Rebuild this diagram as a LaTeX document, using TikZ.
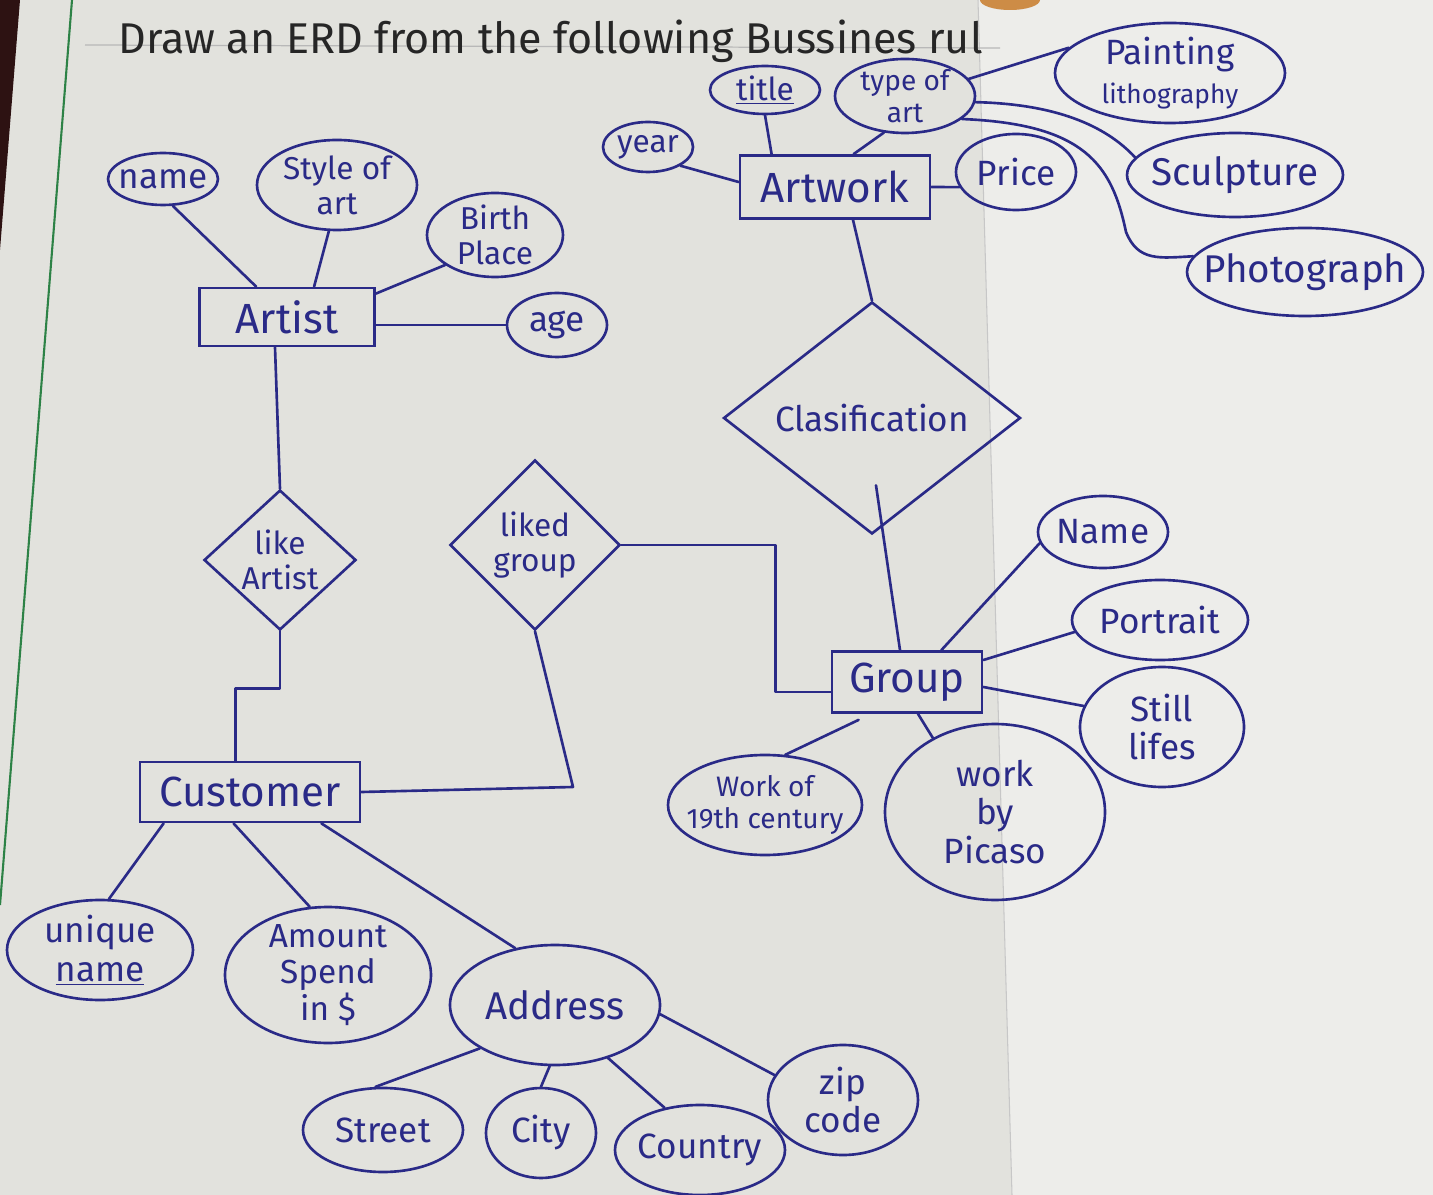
\documentclass[tikz,border=0pt]{standalone}
\usepackage{fontspec}
\setmainfont{Fira Sans}
\usetikzlibrary{shapes.geometric,calc}
\definecolor{inkc}{RGB}{42,42,135}
\definecolor{paper}{RGB}{226,226,221}
\definecolor{paperr}{RGB}{237,237,234}
\definecolor{marginc}{RGB}{45,130,70}
\definecolor{edgec}{RGB}{45,18,18}
\definecolor{fingerc}{RGB}{205,140,70}
\begin{document}
\begin{tikzpicture}[x=0.02cm,y=-0.02cm,
  line/.style={draw=inkc,line width=1.5pt,line join=round,line cap=round},
  ent/.style 2 args={rectangle,draw=inkc,line width=1.6pt,inner sep=0pt,
    minimum width=#1*0.02cm,minimum height=#2*0.02cm,text=inkc,
    font=\fontsize{24}{26}\selectfont},
  attr/.style 2 args={ellipse,draw=inkc,line width=1.5pt,inner sep=-2cm,
    minimum width=#1*0.02cm,minimum height=#2*0.02cm,text=inkc,align=center,
    font=\fontsize{20}{22}\selectfont},
  rel/.style 2 args={diamond,draw=inkc,line width=1.5pt,inner sep=-3cm,
    minimum width=#1*0.02cm,minimum height=#2*0.02cm,text=inkc,align=center,
    font=\fontsize{20}{23}\selectfont},
  smalltxt/.style={font=\fontsize{16}{18}\selectfont},
  midtxt/.style={font=\fontsize{18}{20}\selectfont}
]
% paper
\useasboundingbox (0,0) rectangle (1433,1195);
\fill[paper] (0,0) rectangle (1433,1195);
\fill[paperr] (978,0) -- (1433,0) -- (1433,1195) -- (1012,1195) -- cycle;
\draw[black!22,line width=0.6pt] (978,0) -- (1012,1195);
\fill[edgec] (0,0) -- (20,0) -- (0,250) -- cycle;
\draw[marginc,line width=1.2pt] (72,0) -- (0,905);
\draw[black!28,line width=0.7pt] (85,45) -- (1000,48);
\fill[fingerc] (1010,0) ellipse [x radius=30, y radius=10];

% header
\node[anchor=base west,text=black!85,font=\fontsize{24.5}{26}\selectfont,inner sep=0pt] (header) at (118,54)
  {Draw an ERD from the following Bussines rul};

% entities
\node[ent={190}{63}] (artwork) at (835,187) {Artwork};
\node[ent={175}{58}] (artist) at (287,317) {Artist};
\node[ent={150}{61}] (group) at (907,682) {Group};
\node[ent={220}{60}] (customer) at (250,792) {Customer};

% relationships
\node[rel={297}{232}] (clas) at (872,418) {Clasification};
\node[rel={152}{140},midtxt] (likeart) at (280,560) {like\\Artist};
\node[rel={170}{170},midtxt] (likedg) at (535,545) {liked\\group};

% attributes
\node[attr={110}{52}] (aname) at (163,179) {name};
\node[attr={160}{90},midtxt] (style) at (337,185) {Style of\\art};
\node[attr={136}{84},midtxt] (birth) at (495,235) {Birth\\Place};
\node[attr={100}{64}] (age) at (557,325) {age};
\node[attr={90}{50},midtxt] (year) at (648,147) {year};
\node[attr={110}{48},midtxt] (titleattr) at (765,90) {\underline{title}};
\node[attr={140}{74},smalltxt] (typeart) at (905,96) {type of\\art};
\node[attr={120}{76}] (price) at (1016,172) {Price};
\node[attr={230}{100}] (painting) at (1170,73) {Painting\\{\fontsize{15}{17}\selectfont lithography}};
\node[attr={216}{84},font=\fontsize{22}{24}\selectfont] (sculpture) at (1235,175) {Sculpture};
\node[attr={236}{88},font=\fontsize{22}{24}\selectfont] (photo) at (1305,272) {Photograph};
\node[attr={130}{72}] (gname) at (1103,532) {Name};
\node[attr={176}{80}] (portrait) at (1160,620) {Portrait};
\node[attr={164}{120}] (still) at (1162,727) {Still\\lifes};
\node[attr={194}{100},smalltxt] (work19) at (765,805) {Work of\\19th century};
\node[attr={220}{176}] (picasso) at (995,812) {work\\by\\Picaso};
\node[attr={186}{100}] (uniq) at (100,950) {unique\\\underline{name}};
\node[attr={206}{136},font=\fontsize{19}{21}\selectfont] (amount) at (328,975) {Amount\\Spend\\in \$};
\node[attr={210}{120},font=\fontsize{22}{24}\selectfont] (address) at (555,1005) {Address};
\node[attr={160}{84}] (street) at (383,1130) {Street};
\node[attr={110}{90}] (city) at (541,1133) {City};
\node[attr={170}{90}] (country) at (700,1150) {Country};
\node[attr={150}{110}] (zip) at (843,1100) {zip\\code};

% artwork connectors
\draw[line] (titleattr.south) -- ($(artwork.north west)+(33,0)$);
\draw[line] (typeart.-120) -- ($(artwork.north west)+(115,0)$);
\draw[line] (year.-30) -- ($(artwork.west)+(0,-5)$);
\draw[line] (artwork.east) -- (price.195);
\draw[line] (typeart.15) -- (painting.166);
\draw[line] (typeart.-5) .. controls (1055,104) and (1105,125) .. (sculpture.170);
\coordinate (bend) at (1126,232);
\draw[line] (typeart.-22) .. controls (1085,124) and (1112,165) .. (bend)
  .. controls (1138,262) and (1160,258) .. (photo.172);
\draw[line] ($(artwork.south)+(18,0)$) -- (clas.north);
\draw[line] ($(clas.south)+(4,-50)$) -- ($(group.north)+(-7,0)$);

% group connectors
\draw[line] ($(group.north east)+(-42,0)$) -- (gname.190);
\draw[line] ($(group.east)+(0,-22)$) -- (portrait.188);
\draw[line] ($(group.east)+(0,5)$) -- (still.165);
\draw[line] ($(group.south west)+(28,6)$) -- (work19.68);
\draw[line] ($(group.south)+(11,0)$) -- (picasso.130);

% artist connectors
\draw[line] (aname.-70) -- ($(artist.north west)+(58,0)$);
\draw[line] (style.-100) -- ($(artist.north west)+(116,0)$);
\draw[line] ($(artist.north east)+(0,7)$) -- (birth.211);
\draw[line] ($(artist.east)+(0,8)$) -- (age.west);
\draw[line] ($(artist.south)+(-12,0)$) -- (likeart.north);
\draw[line] (likeart.south) -- ++(0,57) -| ($(customer.north west)+(97,0)$);

% liked group connectors
\coordinate (lgc) at (573,787);
\draw[line] (likedg.south) -- (lgc) -- (customer.east);
\draw[line] (likedg.east) -| ($(group.west)+(-55,10)$) -- ($(group.west)+(0,10)$);

% customer connectors
\draw[line] ($(customer.south west)+(25,0)$) -- (uniq.80);
\draw[line] ($(customer.south west)+(95,0)$) -- (amount.105);
\draw[line] ($(customer.south east)+(-40,0)$) -- (address.125);

% address connectors
\draw[line] (address.-150) -- (street.100);
\draw[line] (address.-95) -- (city.north);
\draw[line] (address.-45) -- (country.130);
\draw[line] (address.-5) -- (zip.160);
\end{tikzpicture}
\end{document}
